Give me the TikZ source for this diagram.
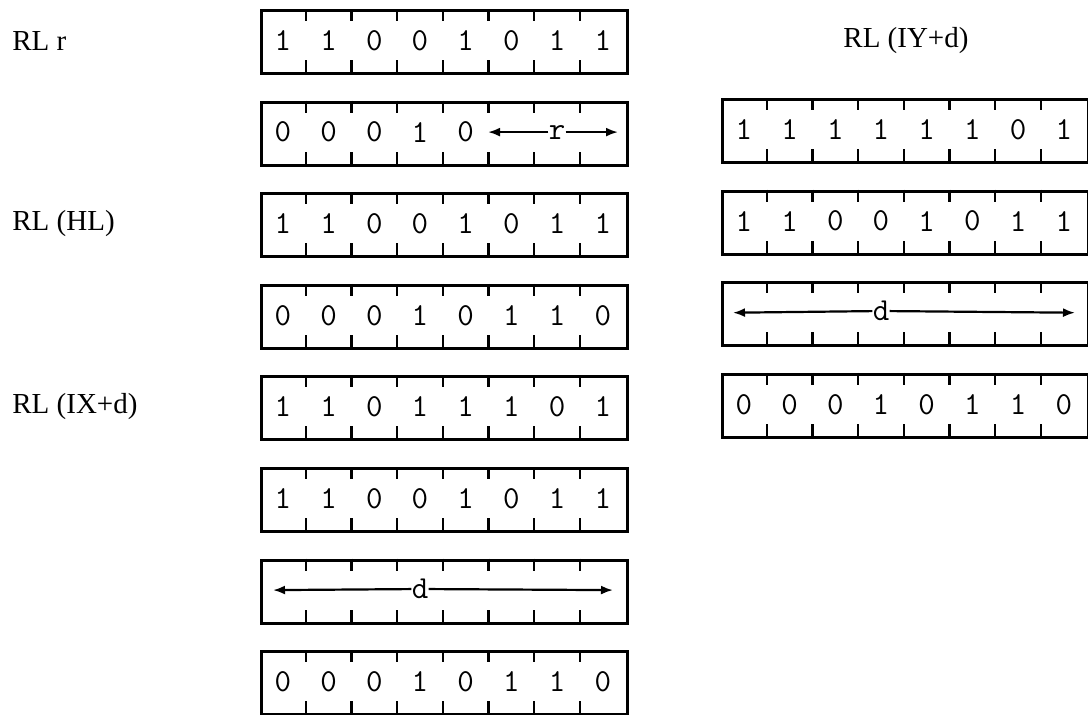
\documentclass[tikz,border=0pt]{standalone}
\usepackage{fontspec}
\setmainfont{Liberation Serif}
\usetikzlibrary{arrows.meta}

\tikzset{
  regbox/.style={draw, line width=1.5pt, minimum width=182.8pt, minimum height=31.5pt, inner sep=0pt, anchor=north west},
  tickline/.style={line width=1.1pt},
  bit/.style={font=\ttfamily\fontsize{16}{16}\selectfont, inner sep=0pt},
  oplabel/.style={font=\fontsize{14.5}{15}\selectfont, anchor=west, inner sep=0pt},
  fieldarrow/.style={line width=1.1pt, -{Latex[length=6pt,width=4.5pt]}}
}

% one 8-bit register: name, left x, top y
\newcommand{\regbox}[3]{%
  \node[regbox] (#1) at (#2,#3) {};
  \foreach \k in {1,...,7}{
    \draw[tickline] (#2+\k*45.7,#3) -- ++(0,12);
    \draw[tickline] (#2+\k*45.7,#3+63) -- ++(0,-12);
  }
}
% bits written into the cells from the left
\newcommand{\regbits}[4]{%
  \foreach \b [count=\k] in {#4}
    \node[bit] (#1-\k) at (#2+\k*45.7-22.85,#3+31.5) {\b};
}

\begin{document}
\begin{tikzpicture}[x=0.5pt,y=-0.5pt]
	\useasboundingbox (0,0) rectangle (1088,714);

	\node[oplabel] (rlr) at (12,41) {RL r};
	\node[oplabel] (rlhl) at (12,224) {RL (HL)};
	\node[oplabel] (rlix) at (12,407) {RL (IX+d)};
	\node[oplabel] (rliy) at (843,41) {RL (IY+d)};

	% RL r
	\regbox{rA}{260}{9}
	\regbits{rA}{260}{9}{1,1,0,0,1,0,1,1}
	\regbox{rB}{260}{100.6}
	\regbits{rB}{260}{100.6}{0,0,0,1,0}
	\node[bit] (rfield) at (557,132.1) {r};
	\coordinate (rleft) at (488,132.1);
	\coordinate (rright) at (618,132.1);
	\draw[fieldarrow] (rfield) -- (rleft);
	\draw[fieldarrow] (rfield) -- (rright);

	% RL (HL)
	\regbox{hlA}{260}{192.2}
	\regbits{hlA}{260}{192.2}{1,1,0,0,1,0,1,1}
	\regbox{hlB}{260}{283.8}
	\regbits{hlB}{260}{283.8}{0,0,0,1,0,1,1,0}

	% RL (IX+d)
	\regbox{ixA}{260}{375.4}
	\regbits{ixA}{260}{375.4}{1,1,0,1,1,1,0,1}
	\regbox{ixB}{260}{467}
	\regbits{ixB}{260}{467}{1,1,0,0,1,0,1,1}
	\regbox{ixC}{260}{558.6}
	\node[bit] (ixd) at (420,589) {d};
	\coordinate (ixleft) at (273,590.1);
	\coordinate (ixright) at (613,590.1);
	\draw[fieldarrow] (ixd) -- (ixleft);
	\draw[fieldarrow] (ixd) -- (ixright);
	\regbox{ixD}{260}{650.2}
	\regbits{ixD}{260}{650.2}{0,0,0,1,0,1,1,0}

	% RL (IY+d)
	\regbox{iyA}{721}{98}
	\regbits{iyA}{721}{98}{1,1,1,1,1,1,0,1}
	\regbox{iyB}{721}{189.6}
	\regbits{iyB}{721}{189.6}{1,1,0,0,1,0,1,1}
	\regbox{iyC}{721}{281.2}
	\node[bit] (iyd) at (881,311) {d};
	\coordinate (iyleft) at (733,312.7);
	\coordinate (iyright) at (1075,312.7);
	\draw[fieldarrow] (iyd) -- (iyleft);
	\draw[fieldarrow] (iyd) -- (iyright);
	\regbox{iyD}{721}{372.8}
	\regbits{iyD}{721}{372.8}{0,0,0,1,0,1,1,0}
\end{tikzpicture}
\end{document}
